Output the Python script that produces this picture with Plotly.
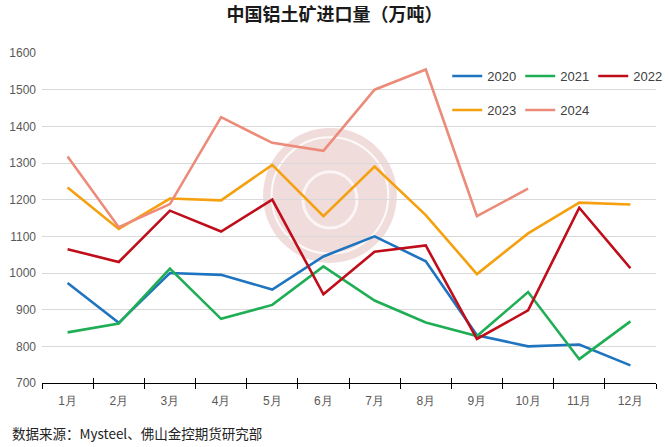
import plotly.graph_objects as go

months = ["1月", "2月", "3月", "4月", "5月", "6月", "7月", "8月", "9月", "10月", "11月", "12月"]
y2020 = [973, 864, 1000, 995, 955, 1045, 1100, 1032, 830, 800, 805, 748]
y2021 = [838, 862, 1012, 875, 913, 1018, 925, 865, 828, 948, 765, 868]
y2022 = [1065, 1030, 1170, 1113, 1200, 942, 1058, 1075, 820, 898, 1178, 1013]
y2023 = [1233, 1120, 1203, 1198, 1295, 1155, 1290, 1158, 997, 1108, 1192, 1187]
y2024 = [1318, 1125, 1188, 1425, 1355, 1333, 1500, 1555, 1155, 1230]
yticks = [700, 800, 900, 1000, 1100, 1200, 1300, 1400, 1500, 1600]

series = [
    ("2020", y2020, "#1f74c0", "legend"),
    ("2021", y2021, "#1fae55", "legend"),
    ("2022", y2022, "#bf0d1a", "legend"),
    ("2023", y2023, "#f5a00f", "legend2"),
    ("2024", y2024, "#ec8b7a", "legend2"),
]

fig = go.Figure()
for name, vals, color, lg in series:
    fig.add_trace(go.Scatter(
        x=months[:len(vals)], y=vals, name=name, mode="lines",
        line=dict(color=color, width=2.6), legend=lg,
    ))

# invisible trace to activate the overlay axis carrying the inside half of the ticks
fig.add_trace(go.Scatter(x=months, y=[None] * len(months), xaxis="x2", yaxis="y",
                         showlegend=False, hoverinfo="skip", mode="lines"))

# pale watermark logo
fig.add_shape(type="circle", xref="paper", yref="paper",
              x0=0.360, x1=0.578, y0=0.364, y1=0.773,
              fillcolor="rgba(214,150,150,0.33)", line=dict(width=0), layer="below")
fig.add_shape(type="circle", xref="paper", yref="paper",
              x0=0.374, x1=0.564, y0=0.392, y1=0.745,
              fillcolor="rgba(0,0,0,0)", line=dict(color="rgba(255,255,255,0.85)", width=2), layer="below")
fig.add_shape(type="circle", xref="paper", yref="paper",
              x0=0.425, x1=0.513, y0=0.47, y1=0.64,
              fillcolor="rgba(0,0,0,0)", line=dict(color="rgba(255,255,255,0.7)", width=3), layer="below")

leg_common = dict(orientation="h", xanchor="left", yanchor="middle",
                  entrywidth=28, entrywidthmode="pixels", itemwidth=30,
                  font=dict(size=13, color="#404040"), bgcolor="rgba(0,0,0,0)")

fig.update_layout(
    width=669, height=447,
    margin=dict(l=42, r=13, t=53, b=64, autoexpand=False),
    paper_bgcolor="white", plot_bgcolor="white",
    font=dict(family="Liberation Sans, Arial, sans-serif", color="#595959", size=12),
    title=dict(text="<b>中国铝土矿进口量（万吨）</b>", x=0.5, xanchor="center", y=0.968, yanchor="middle",
               font=dict(family="Noto Sans CJK SC", size=18, color="#1a1a1a")),
    showlegend=True,
    legend=dict(x=0.66, y=0.93, **leg_common),
    legend2=dict(x=0.66, y=0.827, **leg_common),
    xaxis=dict(type="category", categoryorder="array", categoryarray=months,
               showgrid=False, showline=True, linecolor="#000000", linewidth=1.2,
               ticks="outside", tickson="boundaries", ticklen=5, tickcolor="#000000",
               ticklabelstandoff=6,
               tickfont=dict(size=12, color="#595959"), range=[-0.5, 11.5]),
    xaxis2=dict(overlaying="x", anchor="y", side="bottom", type="category",
                categoryorder="array", categoryarray=months, range=[-0.5, 11.5],
                showgrid=False, showline=False, zeroline=False,
                ticks="inside", tickson="boundaries", ticklen=5, tickcolor="#000000",
                showticklabels=False),
    yaxis=dict(range=[700, 1600], tickvals=yticks, showgrid=True, gridcolor="#d9d9d9",
               gridwidth=1, zeroline=False, showline=False, ticks="",
               ticklabelstandoff=5,
               tickfont=dict(size=12, color="#595959")),
)

fig.add_annotation(text="数据来源：Mysteel、佛山金控期货研究部", xref="paper", yref="paper",
                   x=-0.052, y=-0.152, xanchor="left", yanchor="middle", showarrow=False,
                   font=dict(family="Noto Sans CJK SC", size=13.5, color="#222222"))

fig.write_html("out.html", config={"displayModeBar": False},
               post_script="document.body.style.margin='0';document.body.style.overflow='hidden';")
